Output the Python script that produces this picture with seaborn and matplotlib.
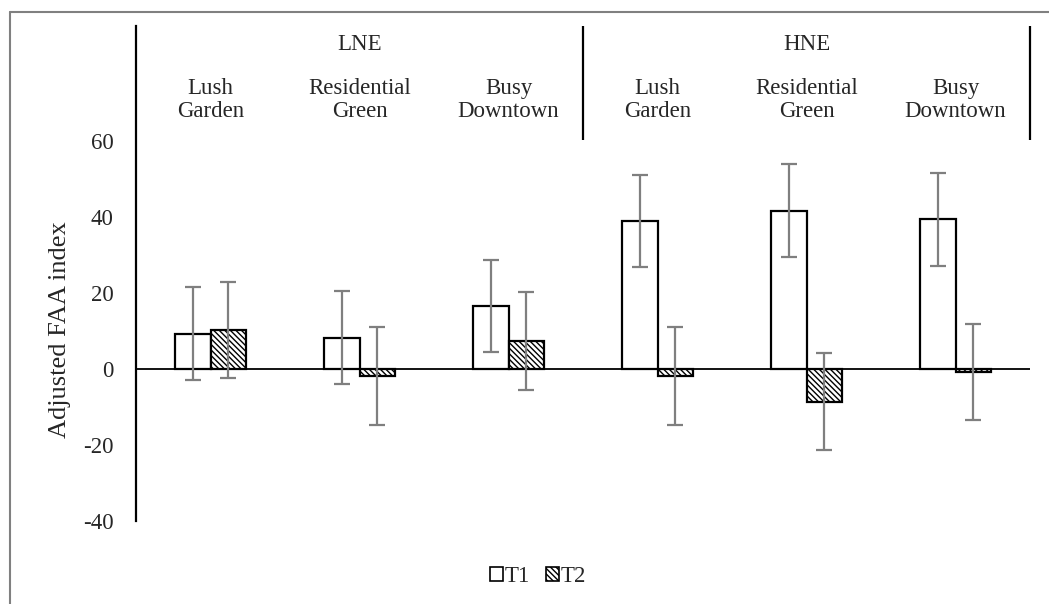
import matplotlib
matplotlib.use("Agg")
import matplotlib.pyplot as plt
import seaborn as sns
import pandas as pd
import numpy as np
from matplotlib.lines import Line2D
from matplotlib.patches import Patch

groups = ["LNE", "HNE"]
sites = ["Lush\nGarden", "Residential\nGreen", "Busy\nDowntown"]
conditions = ["LNE Lush", "LNE Res", "LNE Busy", "HNE Lush", "HNE Res", "HNE Busy"]
t1 = [9.3, 8.3, 16.6, 39.0, 41.7, 39.4]
t2 = [10.3, -1.8, 7.4, -1.8, -8.6, -0.8]
t1_err = [12.2, 12.2, 12.1, 12.1, 12.2, 12.2]
t2_err = [12.6, 12.8, 12.8, 12.8, 12.7, 12.7]
series = ["T1", "T2"]

df = pd.DataFrame({
    "cond": conditions * 2,
    "time": ["T1"] * 6 + ["T2"] * 6,
    "value": t1 + t2,
})

sns.set_style("white")
plt.rcParams["font.family"] = ["Liberation Serif", "DejaVu Serif"]
plt.rcParams["hatch.linewidth"] = 1.0
plt.rcParams["hatch.color"] = "black"

fig = plt.figure(figsize=(10.49, 6.04), dpi=100)
ax = fig.add_axes([136/1049, 1-521/604, (1030-136)/1049, (521-26)/604])

sns.barplot(data=df, x="cond", y="value", hue="time", order=conditions,
            hue_order=series, palette=["white", "white"], width=0.48,
            errorbar=None, edgecolor="black", linewidth=1.6, legend=False, ax=ax)

errs = [t1_err, t2_err]
vals = [t1, t2]
bar_containers = list(ax.containers)
for ci, cont in enumerate(bar_containers):
    xs = [p.get_x() + p.get_width()/2 for p in cont.patches]
    if ci == 1:
        for p in cont.patches:
            p.set_hatch("\\\\\\\\\\\\")
    ax.errorbar(xs, vals[ci], yerr=errs[ci], fmt="none", ecolor="#7f7f7f",
                elinewidth=1.6, capsize=6, capthick=1.6, zorder=5)

ymin, ymax = -40, 90.3
ax.set_ylim(ymin, ymax)
ax.set_xlim(-0.5, 5.5)
ax.axhline(0, color="black", lw=1.3, zorder=4)
ax.set_yticks([-40, -20, 0, 20, 40, 60])
ax.set_yticklabels(["-40", "-20", "0", "20", "40", "60"])
ax.tick_params(axis="y", length=0, labelsize=16.5, pad=16)
ax.set_xticks([])
ax.set_xlabel("")
ax.set_ylabel("")
for s in ["top", "right", "bottom"]:
    ax.spines[s].set_visible(False)
ax.spines["left"].set_color("black")
ax.spines["left"].set_linewidth(1.6)

fig.text(60/1049, 1-330/604, "Adjusted FAA index", rotation=90, ha="center",
         va="center", fontsize=19)

# category labels at top
for i, c in enumerate(conditions):
    ax.text(i, 70.8, sites[i % 3], ha="center", va="center", fontsize=16.5,
            linespacing=1.12)
for g, name in enumerate(groups):
    ax.text(1 + 3*g, 85.5, name, ha="center", va="center", fontsize=16.5)
ax.vlines([2.5, 5.5], 60.3, ymax, color="black", lw=1.6, clip_on=False)

# legend
handles = [Patch(facecolor="white", edgecolor="black", linewidth=1.2),
           Patch(facecolor="white", edgecolor="black", linewidth=1.2, hatch="\\\\\\\\\\\\")]
fig.legend(handles, series, loc="center", bbox_to_anchor=(0.513, 0.045),
           ncol=2, frameon=False, fontsize=16.5, handlelength=0.55, handleheight=0.55,
           handletextpad=0.1, columnspacing=0.7)

# outer frame
fig.add_artist(Line2D([10/1049, 1], [1-12/604, 1-12/604], color="#808080", lw=1.5))
fig.add_artist(Line2D([10/1049, 10/1049], [0, 1-12/604], color="#808080", lw=1.5))

fig.savefig("out.png", dpi=100)
